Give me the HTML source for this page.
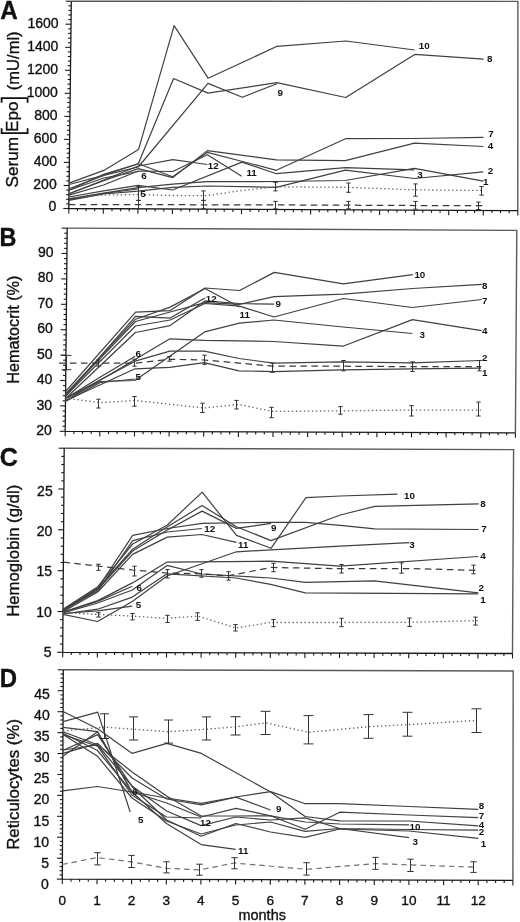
<!DOCTYPE html>
<html><head><meta charset="utf-8"><style>
html,body{margin:0;padding:0;background:#fff;}
body{width:520px;height:922px;overflow:hidden;}
svg{display:block;will-change:transform;}
text{font-family:"Liberation Sans",sans-serif;fill:#111;stroke:#111;stroke-width:0.35px;}
.tl{font-size:14px;text-anchor:end;}
.ml{font-size:13.6px;text-anchor:middle;}
.mo{font-size:14.5px;}
.pl{font-size:25px;font-weight:bold;}
.yt{font-size:16.8px;}
.dl{font-size:9.8px;font-weight:bold;stroke-width:0;}
</style></head><body>
<svg width="520" height="922" viewBox="0 0 520 922" shape-rendering="geometricPrecision">
<rect width="520" height="922" fill="#fff"/>
<polyline points="71.3,1.2 517.9,1.4 517.8,210.6" fill="none" stroke="#5a5a5a" stroke-width="1.4"/>
<polyline points="71.3,1.2 68.8,208.5 517.8,210.6" fill="none" stroke="#1a1a1a" stroke-width="1.3"/>
<line x1="63.3" y1="208.5" x2="68.8" y2="208.5" stroke="#1a1a1a" stroke-width="1.1" />
<line x1="66.1" y1="203.9" x2="68.9" y2="203.9" stroke="#1a1a1a" stroke-width="1.1" />
<line x1="66.1" y1="199.3" x2="68.9" y2="199.3" stroke="#1a1a1a" stroke-width="1.1" />
<line x1="66.2" y1="194.7" x2="69" y2="194.7" stroke="#1a1a1a" stroke-width="1.1" />
<line x1="66.2" y1="190.1" x2="69" y2="190.1" stroke="#1a1a1a" stroke-width="1.1" />
<line x1="63.6" y1="185.5" x2="69.1" y2="185.5" stroke="#1a1a1a" stroke-width="1.1" />
<line x1="66.3" y1="180.9" x2="69.1" y2="180.9" stroke="#1a1a1a" stroke-width="1.1" />
<line x1="66.4" y1="176.3" x2="69.2" y2="176.3" stroke="#1a1a1a" stroke-width="1.1" />
<line x1="66.4" y1="171.6" x2="69.2" y2="171.6" stroke="#1a1a1a" stroke-width="1.1" />
<line x1="66.5" y1="167" x2="69.3" y2="167" stroke="#1a1a1a" stroke-width="1.1" />
<line x1="63.9" y1="162.4" x2="69.4" y2="162.4" stroke="#1a1a1a" stroke-width="1.1" />
<line x1="66.6" y1="157.8" x2="69.4" y2="157.8" stroke="#1a1a1a" stroke-width="1.1" />
<line x1="66.7" y1="153.2" x2="69.5" y2="153.2" stroke="#1a1a1a" stroke-width="1.1" />
<line x1="66.7" y1="148.6" x2="69.5" y2="148.6" stroke="#1a1a1a" stroke-width="1.1" />
<line x1="66.8" y1="144" x2="69.6" y2="144" stroke="#1a1a1a" stroke-width="1.1" />
<line x1="64.1" y1="139.4" x2="69.6" y2="139.4" stroke="#1a1a1a" stroke-width="1.1" />
<line x1="66.9" y1="134.8" x2="69.7" y2="134.8" stroke="#1a1a1a" stroke-width="1.1" />
<line x1="66.9" y1="130.2" x2="69.7" y2="130.2" stroke="#1a1a1a" stroke-width="1.1" />
<line x1="67" y1="125.6" x2="69.8" y2="125.6" stroke="#1a1a1a" stroke-width="1.1" />
<line x1="67.1" y1="121" x2="69.9" y2="121" stroke="#1a1a1a" stroke-width="1.1" />
<line x1="64.4" y1="116.4" x2="69.9" y2="116.4" stroke="#1a1a1a" stroke-width="1.1" />
<line x1="67.2" y1="111.8" x2="70" y2="111.8" stroke="#1a1a1a" stroke-width="1.1" />
<line x1="67.2" y1="107.2" x2="70" y2="107.2" stroke="#1a1a1a" stroke-width="1.1" />
<line x1="67.3" y1="102.5" x2="70.1" y2="102.5" stroke="#1a1a1a" stroke-width="1.1" />
<line x1="67.3" y1="97.9" x2="70.1" y2="97.9" stroke="#1a1a1a" stroke-width="1.1" />
<line x1="64.7" y1="93.3" x2="70.2" y2="93.3" stroke="#1a1a1a" stroke-width="1.1" />
<line x1="67.4" y1="88.7" x2="70.2" y2="88.7" stroke="#1a1a1a" stroke-width="1.1" />
<line x1="67.5" y1="84.1" x2="70.3" y2="84.1" stroke="#1a1a1a" stroke-width="1.1" />
<line x1="67.6" y1="79.5" x2="70.4" y2="79.5" stroke="#1a1a1a" stroke-width="1.1" />
<line x1="67.6" y1="74.9" x2="70.4" y2="74.9" stroke="#1a1a1a" stroke-width="1.1" />
<line x1="65" y1="70.3" x2="70.5" y2="70.3" stroke="#1a1a1a" stroke-width="1.1" />
<line x1="67.7" y1="65.7" x2="70.5" y2="65.7" stroke="#1a1a1a" stroke-width="1.1" />
<line x1="67.8" y1="61.1" x2="70.6" y2="61.1" stroke="#1a1a1a" stroke-width="1.1" />
<line x1="67.8" y1="56.5" x2="70.6" y2="56.5" stroke="#1a1a1a" stroke-width="1.1" />
<line x1="67.9" y1="51.9" x2="70.7" y2="51.9" stroke="#1a1a1a" stroke-width="1.1" />
<line x1="65.2" y1="47.3" x2="70.7" y2="47.3" stroke="#1a1a1a" stroke-width="1.1" />
<line x1="68" y1="42.7" x2="70.8" y2="42.7" stroke="#1a1a1a" stroke-width="1.1" />
<line x1="68.1" y1="38.1" x2="70.9" y2="38.1" stroke="#1a1a1a" stroke-width="1.1" />
<line x1="68.1" y1="33.4" x2="70.9" y2="33.4" stroke="#1a1a1a" stroke-width="1.1" />
<line x1="68.2" y1="28.8" x2="71" y2="28.8" stroke="#1a1a1a" stroke-width="1.1" />
<line x1="65.5" y1="24.2" x2="71" y2="24.2" stroke="#1a1a1a" stroke-width="1.1" />
<line x1="68.3" y1="19.6" x2="71.1" y2="19.6" stroke="#1a1a1a" stroke-width="1.1" />
<line x1="68.3" y1="15" x2="71.1" y2="15" stroke="#1a1a1a" stroke-width="1.1" />
<line x1="68.4" y1="10.4" x2="71.2" y2="10.4" stroke="#1a1a1a" stroke-width="1.1" />
<line x1="68.4" y1="5.8" x2="71.2" y2="5.8" stroke="#1a1a1a" stroke-width="1.1" />
<line x1="65.8" y1="1.2" x2="71.3" y2="1.2" stroke="#1a1a1a" stroke-width="1.1" />
<line x1="68.8" y1="208.5" x2="68.8" y2="213.5" stroke="#1a1a1a" stroke-width="1.1" />
<line x1="77.4" y1="208.5" x2="77.4" y2="211.1" stroke="#1a1a1a" stroke-width="1.1" />
<line x1="86.1" y1="208.6" x2="86.1" y2="211.2" stroke="#1a1a1a" stroke-width="1.1" />
<line x1="94.7" y1="208.6" x2="94.7" y2="211.2" stroke="#1a1a1a" stroke-width="1.1" />
<line x1="103.3" y1="208.7" x2="103.3" y2="213.7" stroke="#1a1a1a" stroke-width="1.1" />
<line x1="112" y1="208.7" x2="112" y2="211.3" stroke="#1a1a1a" stroke-width="1.1" />
<line x1="120.6" y1="208.7" x2="120.6" y2="211.3" stroke="#1a1a1a" stroke-width="1.1" />
<line x1="129.2" y1="208.8" x2="129.2" y2="211.4" stroke="#1a1a1a" stroke-width="1.1" />
<line x1="137.9" y1="208.8" x2="137.9" y2="213.8" stroke="#1a1a1a" stroke-width="1.1" />
<line x1="146.5" y1="208.9" x2="146.5" y2="211.5" stroke="#1a1a1a" stroke-width="1.1" />
<line x1="155.1" y1="208.9" x2="155.1" y2="211.5" stroke="#1a1a1a" stroke-width="1.1" />
<line x1="163.8" y1="208.9" x2="163.8" y2="211.5" stroke="#1a1a1a" stroke-width="1.1" />
<line x1="172.4" y1="209" x2="172.4" y2="214" stroke="#1a1a1a" stroke-width="1.1" />
<line x1="181" y1="209" x2="181" y2="211.6" stroke="#1a1a1a" stroke-width="1.1" />
<line x1="189.7" y1="209.1" x2="189.7" y2="211.7" stroke="#1a1a1a" stroke-width="1.1" />
<line x1="198.3" y1="209.1" x2="198.3" y2="211.7" stroke="#1a1a1a" stroke-width="1.1" />
<line x1="207" y1="209.1" x2="207" y2="214.1" stroke="#1a1a1a" stroke-width="1.1" />
<line x1="215.6" y1="209.2" x2="215.6" y2="211.8" stroke="#1a1a1a" stroke-width="1.1" />
<line x1="224.2" y1="209.2" x2="224.2" y2="211.8" stroke="#1a1a1a" stroke-width="1.1" />
<line x1="232.9" y1="209.3" x2="232.9" y2="211.9" stroke="#1a1a1a" stroke-width="1.1" />
<line x1="241.5" y1="209.3" x2="241.5" y2="214.3" stroke="#1a1a1a" stroke-width="1.1" />
<line x1="250.1" y1="209.3" x2="250.1" y2="211.9" stroke="#1a1a1a" stroke-width="1.1" />
<line x1="258.8" y1="209.4" x2="258.8" y2="212" stroke="#1a1a1a" stroke-width="1.1" />
<line x1="267.4" y1="209.4" x2="267.4" y2="212" stroke="#1a1a1a" stroke-width="1.1" />
<line x1="276" y1="209.5" x2="276" y2="214.5" stroke="#1a1a1a" stroke-width="1.1" />
<line x1="284.7" y1="209.5" x2="284.7" y2="212.1" stroke="#1a1a1a" stroke-width="1.1" />
<line x1="293.3" y1="209.6" x2="293.3" y2="212.2" stroke="#1a1a1a" stroke-width="1.1" />
<line x1="301.9" y1="209.6" x2="301.9" y2="212.2" stroke="#1a1a1a" stroke-width="1.1" />
<line x1="310.6" y1="209.6" x2="310.6" y2="214.6" stroke="#1a1a1a" stroke-width="1.1" />
<line x1="319.2" y1="209.7" x2="319.2" y2="212.3" stroke="#1a1a1a" stroke-width="1.1" />
<line x1="327.8" y1="209.7" x2="327.8" y2="212.3" stroke="#1a1a1a" stroke-width="1.1" />
<line x1="336.5" y1="209.8" x2="336.5" y2="212.4" stroke="#1a1a1a" stroke-width="1.1" />
<line x1="345.1" y1="209.8" x2="345.1" y2="214.8" stroke="#1a1a1a" stroke-width="1.1" />
<line x1="353.7" y1="209.8" x2="353.7" y2="212.4" stroke="#1a1a1a" stroke-width="1.1" />
<line x1="362.4" y1="209.9" x2="362.4" y2="212.5" stroke="#1a1a1a" stroke-width="1.1" />
<line x1="371" y1="209.9" x2="371" y2="212.5" stroke="#1a1a1a" stroke-width="1.1" />
<line x1="379.6" y1="210" x2="379.6" y2="215" stroke="#1a1a1a" stroke-width="1.1" />
<line x1="388.3" y1="210" x2="388.3" y2="212.6" stroke="#1a1a1a" stroke-width="1.1" />
<line x1="396.9" y1="210" x2="396.9" y2="212.6" stroke="#1a1a1a" stroke-width="1.1" />
<line x1="405.5" y1="210.1" x2="405.5" y2="212.7" stroke="#1a1a1a" stroke-width="1.1" />
<line x1="414.2" y1="210.1" x2="414.2" y2="215.1" stroke="#1a1a1a" stroke-width="1.1" />
<line x1="422.8" y1="210.2" x2="422.8" y2="212.8" stroke="#1a1a1a" stroke-width="1.1" />
<line x1="431.5" y1="210.2" x2="431.5" y2="212.8" stroke="#1a1a1a" stroke-width="1.1" />
<line x1="440.1" y1="210.2" x2="440.1" y2="212.8" stroke="#1a1a1a" stroke-width="1.1" />
<line x1="448.7" y1="210.3" x2="448.7" y2="215.3" stroke="#1a1a1a" stroke-width="1.1" />
<line x1="457.4" y1="210.3" x2="457.4" y2="212.9" stroke="#1a1a1a" stroke-width="1.1" />
<line x1="466" y1="210.4" x2="466" y2="213" stroke="#1a1a1a" stroke-width="1.1" />
<line x1="474.6" y1="210.4" x2="474.6" y2="213" stroke="#1a1a1a" stroke-width="1.1" />
<line x1="483.3" y1="210.4" x2="483.3" y2="215.4" stroke="#1a1a1a" stroke-width="1.1" />
<line x1="491.9" y1="210.5" x2="491.9" y2="213.1" stroke="#1a1a1a" stroke-width="1.1" />
<line x1="500.5" y1="210.5" x2="500.5" y2="213.1" stroke="#1a1a1a" stroke-width="1.1" />
<line x1="509.2" y1="210.6" x2="509.2" y2="213.2" stroke="#1a1a1a" stroke-width="1.1" />
<line x1="517.8" y1="210.6" x2="517.8" y2="215.6" stroke="#1a1a1a" stroke-width="1.1" />
<text x="56.4" y="211.2" class="tl">0</text>
<text x="56.7" y="188.9" class="tl">200</text>
<text x="57" y="166" class="tl">400</text>
<text x="57.2" y="143" class="tl">600</text>
<text x="57.5" y="120" class="tl">800</text>
<text x="57.8" y="97" class="tl">1000</text>
<text x="58.1" y="74.1" class="tl">1200</text>
<text x="58.3" y="51.1" class="tl">1400</text>
<text x="58.6" y="28.1" class="tl">1600</text>
<polyline points="67.2,228.1 516.8,230.4 515.4,432.8" fill="none" stroke="#5a5a5a" stroke-width="1.4"/>
<polyline points="67.2,228.1 65.2,431.3 515.4,432.8" fill="none" stroke="#1a1a1a" stroke-width="1.3"/>
<line x1="59.7" y1="431.3" x2="65.2" y2="431.3" stroke="#1a1a1a" stroke-width="1.1" />
<line x1="62.5" y1="426.2" x2="65.2" y2="426.2" stroke="#1a1a1a" stroke-width="1.1" />
<line x1="62.5" y1="421.1" x2="65.3" y2="421.1" stroke="#1a1a1a" stroke-width="1.1" />
<line x1="62.6" y1="416.1" x2="65.4" y2="416.1" stroke="#1a1a1a" stroke-width="1.1" />
<line x1="62.6" y1="411" x2="65.4" y2="411" stroke="#1a1a1a" stroke-width="1.1" />
<line x1="60" y1="405.9" x2="65.5" y2="405.9" stroke="#1a1a1a" stroke-width="1.1" />
<line x1="62.7" y1="400.8" x2="65.5" y2="400.8" stroke="#1a1a1a" stroke-width="1.1" />
<line x1="62.8" y1="395.7" x2="65.5" y2="395.7" stroke="#1a1a1a" stroke-width="1.1" />
<line x1="62.8" y1="390.7" x2="65.6" y2="390.7" stroke="#1a1a1a" stroke-width="1.1" />
<line x1="62.9" y1="385.6" x2="65.7" y2="385.6" stroke="#1a1a1a" stroke-width="1.1" />
<line x1="60.2" y1="380.5" x2="65.7" y2="380.5" stroke="#1a1a1a" stroke-width="1.1" />
<line x1="63" y1="375.4" x2="65.8" y2="375.4" stroke="#1a1a1a" stroke-width="1.1" />
<line x1="63" y1="370.3" x2="65.8" y2="370.3" stroke="#1a1a1a" stroke-width="1.1" />
<line x1="63.1" y1="365.3" x2="65.9" y2="365.3" stroke="#1a1a1a" stroke-width="1.1" />
<line x1="63.1" y1="360.2" x2="65.9" y2="360.2" stroke="#1a1a1a" stroke-width="1.1" />
<line x1="60.5" y1="355.1" x2="66" y2="355.1" stroke="#1a1a1a" stroke-width="1.1" />
<line x1="63.2" y1="350" x2="66" y2="350" stroke="#1a1a1a" stroke-width="1.1" />
<line x1="63.2" y1="344.9" x2="66" y2="344.9" stroke="#1a1a1a" stroke-width="1.1" />
<line x1="63.3" y1="339.9" x2="66.1" y2="339.9" stroke="#1a1a1a" stroke-width="1.1" />
<line x1="63.4" y1="334.8" x2="66.2" y2="334.8" stroke="#1a1a1a" stroke-width="1.1" />
<line x1="60.7" y1="329.7" x2="66.2" y2="329.7" stroke="#1a1a1a" stroke-width="1.1" />
<line x1="63.5" y1="324.6" x2="66.2" y2="324.6" stroke="#1a1a1a" stroke-width="1.1" />
<line x1="63.5" y1="319.5" x2="66.3" y2="319.5" stroke="#1a1a1a" stroke-width="1.1" />
<line x1="63.6" y1="314.5" x2="66.4" y2="314.5" stroke="#1a1a1a" stroke-width="1.1" />
<line x1="63.6" y1="309.4" x2="66.4" y2="309.4" stroke="#1a1a1a" stroke-width="1.1" />
<line x1="61" y1="304.3" x2="66.5" y2="304.3" stroke="#1a1a1a" stroke-width="1.1" />
<line x1="63.7" y1="299.2" x2="66.5" y2="299.2" stroke="#1a1a1a" stroke-width="1.1" />
<line x1="63.8" y1="294.1" x2="66.6" y2="294.1" stroke="#1a1a1a" stroke-width="1.1" />
<line x1="63.8" y1="289.1" x2="66.6" y2="289.1" stroke="#1a1a1a" stroke-width="1.1" />
<line x1="63.9" y1="284" x2="66.7" y2="284" stroke="#1a1a1a" stroke-width="1.1" />
<line x1="61.2" y1="278.9" x2="66.7" y2="278.9" stroke="#1a1a1a" stroke-width="1.1" />
<line x1="64" y1="273.8" x2="66.8" y2="273.8" stroke="#1a1a1a" stroke-width="1.1" />
<line x1="64" y1="268.7" x2="66.8" y2="268.7" stroke="#1a1a1a" stroke-width="1.1" />
<line x1="64" y1="263.7" x2="66.8" y2="263.7" stroke="#1a1a1a" stroke-width="1.1" />
<line x1="64.1" y1="258.6" x2="66.9" y2="258.6" stroke="#1a1a1a" stroke-width="1.1" />
<line x1="61.5" y1="253.5" x2="67" y2="253.5" stroke="#1a1a1a" stroke-width="1.1" />
<line x1="64.2" y1="248.4" x2="67" y2="248.4" stroke="#1a1a1a" stroke-width="1.1" />
<line x1="64.2" y1="243.3" x2="67" y2="243.3" stroke="#1a1a1a" stroke-width="1.1" />
<line x1="64.3" y1="238.3" x2="67.1" y2="238.3" stroke="#1a1a1a" stroke-width="1.1" />
<line x1="64.3" y1="233.2" x2="67.1" y2="233.2" stroke="#1a1a1a" stroke-width="1.1" />
<line x1="61.7" y1="228.1" x2="67.2" y2="228.1" stroke="#1a1a1a" stroke-width="1.1" />
<line x1="65.2" y1="431.3" x2="65.2" y2="436.3" stroke="#1a1a1a" stroke-width="1.1" />
<line x1="73.9" y1="431.3" x2="73.9" y2="433.9" stroke="#1a1a1a" stroke-width="1.1" />
<line x1="82.5" y1="431.4" x2="82.5" y2="434" stroke="#1a1a1a" stroke-width="1.1" />
<line x1="91.2" y1="431.4" x2="91.2" y2="434" stroke="#1a1a1a" stroke-width="1.1" />
<line x1="99.8" y1="431.4" x2="99.8" y2="436.4" stroke="#1a1a1a" stroke-width="1.1" />
<line x1="108.5" y1="431.4" x2="108.5" y2="434" stroke="#1a1a1a" stroke-width="1.1" />
<line x1="117.1" y1="431.5" x2="117.1" y2="434.1" stroke="#1a1a1a" stroke-width="1.1" />
<line x1="125.8" y1="431.5" x2="125.8" y2="434.1" stroke="#1a1a1a" stroke-width="1.1" />
<line x1="134.5" y1="431.5" x2="134.5" y2="436.5" stroke="#1a1a1a" stroke-width="1.1" />
<line x1="143.1" y1="431.6" x2="143.1" y2="434.2" stroke="#1a1a1a" stroke-width="1.1" />
<line x1="151.8" y1="431.6" x2="151.8" y2="434.2" stroke="#1a1a1a" stroke-width="1.1" />
<line x1="160.4" y1="431.6" x2="160.4" y2="434.2" stroke="#1a1a1a" stroke-width="1.1" />
<line x1="169.1" y1="431.6" x2="169.1" y2="436.6" stroke="#1a1a1a" stroke-width="1.1" />
<line x1="177.8" y1="431.7" x2="177.8" y2="434.3" stroke="#1a1a1a" stroke-width="1.1" />
<line x1="186.4" y1="431.7" x2="186.4" y2="434.3" stroke="#1a1a1a" stroke-width="1.1" />
<line x1="195.1" y1="431.7" x2="195.1" y2="434.3" stroke="#1a1a1a" stroke-width="1.1" />
<line x1="203.7" y1="431.8" x2="203.7" y2="436.8" stroke="#1a1a1a" stroke-width="1.1" />
<line x1="212.4" y1="431.8" x2="212.4" y2="434.4" stroke="#1a1a1a" stroke-width="1.1" />
<line x1="221" y1="431.8" x2="221" y2="434.4" stroke="#1a1a1a" stroke-width="1.1" />
<line x1="229.7" y1="431.8" x2="229.7" y2="434.4" stroke="#1a1a1a" stroke-width="1.1" />
<line x1="238.4" y1="431.9" x2="238.4" y2="436.9" stroke="#1a1a1a" stroke-width="1.1" />
<line x1="247" y1="431.9" x2="247" y2="434.5" stroke="#1a1a1a" stroke-width="1.1" />
<line x1="255.7" y1="431.9" x2="255.7" y2="434.5" stroke="#1a1a1a" stroke-width="1.1" />
<line x1="264.3" y1="432" x2="264.3" y2="434.6" stroke="#1a1a1a" stroke-width="1.1" />
<line x1="273" y1="432" x2="273" y2="437" stroke="#1a1a1a" stroke-width="1.1" />
<line x1="281.6" y1="432" x2="281.6" y2="434.6" stroke="#1a1a1a" stroke-width="1.1" />
<line x1="290.3" y1="432.1" x2="290.3" y2="434.7" stroke="#1a1a1a" stroke-width="1.1" />
<line x1="299" y1="432.1" x2="299" y2="434.7" stroke="#1a1a1a" stroke-width="1.1" />
<line x1="307.6" y1="432.1" x2="307.6" y2="437.1" stroke="#1a1a1a" stroke-width="1.1" />
<line x1="316.3" y1="432.1" x2="316.3" y2="434.7" stroke="#1a1a1a" stroke-width="1.1" />
<line x1="324.9" y1="432.2" x2="324.9" y2="434.8" stroke="#1a1a1a" stroke-width="1.1" />
<line x1="333.6" y1="432.2" x2="333.6" y2="434.8" stroke="#1a1a1a" stroke-width="1.1" />
<line x1="342.2" y1="432.2" x2="342.2" y2="437.2" stroke="#1a1a1a" stroke-width="1.1" />
<line x1="350.9" y1="432.3" x2="350.9" y2="434.9" stroke="#1a1a1a" stroke-width="1.1" />
<line x1="359.6" y1="432.3" x2="359.6" y2="434.9" stroke="#1a1a1a" stroke-width="1.1" />
<line x1="368.2" y1="432.3" x2="368.2" y2="434.9" stroke="#1a1a1a" stroke-width="1.1" />
<line x1="376.9" y1="432.3" x2="376.9" y2="437.3" stroke="#1a1a1a" stroke-width="1.1" />
<line x1="385.5" y1="432.4" x2="385.5" y2="435" stroke="#1a1a1a" stroke-width="1.1" />
<line x1="394.2" y1="432.4" x2="394.2" y2="435" stroke="#1a1a1a" stroke-width="1.1" />
<line x1="402.8" y1="432.4" x2="402.8" y2="435" stroke="#1a1a1a" stroke-width="1.1" />
<line x1="411.5" y1="432.5" x2="411.5" y2="437.5" stroke="#1a1a1a" stroke-width="1.1" />
<line x1="420.2" y1="432.5" x2="420.2" y2="435.1" stroke="#1a1a1a" stroke-width="1.1" />
<line x1="428.8" y1="432.5" x2="428.8" y2="435.1" stroke="#1a1a1a" stroke-width="1.1" />
<line x1="437.5" y1="432.5" x2="437.5" y2="435.1" stroke="#1a1a1a" stroke-width="1.1" />
<line x1="446.1" y1="432.6" x2="446.1" y2="437.6" stroke="#1a1a1a" stroke-width="1.1" />
<line x1="454.8" y1="432.6" x2="454.8" y2="435.2" stroke="#1a1a1a" stroke-width="1.1" />
<line x1="463.5" y1="432.6" x2="463.5" y2="435.2" stroke="#1a1a1a" stroke-width="1.1" />
<line x1="472.1" y1="432.7" x2="472.1" y2="435.3" stroke="#1a1a1a" stroke-width="1.1" />
<line x1="480.8" y1="432.7" x2="480.8" y2="437.7" stroke="#1a1a1a" stroke-width="1.1" />
<line x1="489.4" y1="432.7" x2="489.4" y2="435.3" stroke="#1a1a1a" stroke-width="1.1" />
<line x1="498.1" y1="432.7" x2="498.1" y2="435.3" stroke="#1a1a1a" stroke-width="1.1" />
<line x1="506.7" y1="432.8" x2="506.7" y2="435.4" stroke="#1a1a1a" stroke-width="1.1" />
<line x1="515.4" y1="432.8" x2="515.4" y2="437.8" stroke="#1a1a1a" stroke-width="1.1" />
<text x="51.8" y="435.4" class="tl">20</text>
<text x="52.1" y="409.9" class="tl">30</text>
<text x="52.3" y="384.3" class="tl">40</text>
<text x="52.6" y="358.7" class="tl">50</text>
<text x="52.8" y="333.2" class="tl">60</text>
<text x="53.1" y="307.6" class="tl">70</text>
<text x="53.3" y="282.1" class="tl">80</text>
<text x="53.6" y="256.5" class="tl">90</text>
<polyline points="64.2,448.2 513.6,449.6 512.5,653.5" fill="none" stroke="#5a5a5a" stroke-width="1.4"/>
<polyline points="64.2,448.2 62.7,652.3 512.5,653.5" fill="none" stroke="#1a1a1a" stroke-width="1.3"/>
<line x1="57.2" y1="652.3" x2="62.7" y2="652.3" stroke="#1a1a1a" stroke-width="1.1" />
<line x1="60" y1="644.1" x2="62.8" y2="644.1" stroke="#1a1a1a" stroke-width="1.1" />
<line x1="60" y1="636" x2="62.8" y2="636" stroke="#1a1a1a" stroke-width="1.1" />
<line x1="60.1" y1="627.8" x2="62.9" y2="627.8" stroke="#1a1a1a" stroke-width="1.1" />
<line x1="60.1" y1="619.6" x2="62.9" y2="619.6" stroke="#1a1a1a" stroke-width="1.1" />
<line x1="57.5" y1="611.5" x2="63" y2="611.5" stroke="#1a1a1a" stroke-width="1.1" />
<line x1="60.3" y1="603.3" x2="63.1" y2="603.3" stroke="#1a1a1a" stroke-width="1.1" />
<line x1="60.3" y1="595.2" x2="63.1" y2="595.2" stroke="#1a1a1a" stroke-width="1.1" />
<line x1="60.4" y1="587" x2="63.2" y2="587" stroke="#1a1a1a" stroke-width="1.1" />
<line x1="60.4" y1="578.8" x2="63.2" y2="578.8" stroke="#1a1a1a" stroke-width="1.1" />
<line x1="57.8" y1="570.7" x2="63.3" y2="570.7" stroke="#1a1a1a" stroke-width="1.1" />
<line x1="60.6" y1="562.5" x2="63.4" y2="562.5" stroke="#1a1a1a" stroke-width="1.1" />
<line x1="60.6" y1="554.3" x2="63.4" y2="554.3" stroke="#1a1a1a" stroke-width="1.1" />
<line x1="60.7" y1="546.2" x2="63.5" y2="546.2" stroke="#1a1a1a" stroke-width="1.1" />
<line x1="60.7" y1="538" x2="63.5" y2="538" stroke="#1a1a1a" stroke-width="1.1" />
<line x1="58.1" y1="529.8" x2="63.6" y2="529.8" stroke="#1a1a1a" stroke-width="1.1" />
<line x1="60.9" y1="521.7" x2="63.7" y2="521.7" stroke="#1a1a1a" stroke-width="1.1" />
<line x1="60.9" y1="513.5" x2="63.7" y2="513.5" stroke="#1a1a1a" stroke-width="1.1" />
<line x1="61" y1="505.3" x2="63.8" y2="505.3" stroke="#1a1a1a" stroke-width="1.1" />
<line x1="61" y1="497.2" x2="63.8" y2="497.2" stroke="#1a1a1a" stroke-width="1.1" />
<line x1="58.4" y1="489" x2="63.9" y2="489" stroke="#1a1a1a" stroke-width="1.1" />
<line x1="61.2" y1="480.9" x2="64" y2="480.9" stroke="#1a1a1a" stroke-width="1.1" />
<line x1="61.2" y1="472.7" x2="64" y2="472.7" stroke="#1a1a1a" stroke-width="1.1" />
<line x1="61.3" y1="464.5" x2="64.1" y2="464.5" stroke="#1a1a1a" stroke-width="1.1" />
<line x1="61.3" y1="456.4" x2="64.1" y2="456.4" stroke="#1a1a1a" stroke-width="1.1" />
<line x1="58.7" y1="448.2" x2="64.2" y2="448.2" stroke="#1a1a1a" stroke-width="1.1" />
<line x1="62.7" y1="652.3" x2="62.7" y2="657.3" stroke="#1a1a1a" stroke-width="1.1" />
<line x1="71.3" y1="652.3" x2="71.3" y2="654.9" stroke="#1a1a1a" stroke-width="1.1" />
<line x1="80" y1="652.3" x2="80" y2="654.9" stroke="#1a1a1a" stroke-width="1.1" />
<line x1="88.7" y1="652.4" x2="88.7" y2="655" stroke="#1a1a1a" stroke-width="1.1" />
<line x1="97.3" y1="652.4" x2="97.3" y2="657.4" stroke="#1a1a1a" stroke-width="1.1" />
<line x1="106" y1="652.4" x2="106" y2="655" stroke="#1a1a1a" stroke-width="1.1" />
<line x1="114.6" y1="652.4" x2="114.6" y2="655" stroke="#1a1a1a" stroke-width="1.1" />
<line x1="123.2" y1="652.5" x2="123.2" y2="655.1" stroke="#1a1a1a" stroke-width="1.1" />
<line x1="131.9" y1="652.5" x2="131.9" y2="657.5" stroke="#1a1a1a" stroke-width="1.1" />
<line x1="140.6" y1="652.5" x2="140.6" y2="655.1" stroke="#1a1a1a" stroke-width="1.1" />
<line x1="149.2" y1="652.5" x2="149.2" y2="655.1" stroke="#1a1a1a" stroke-width="1.1" />
<line x1="157.8" y1="652.6" x2="157.8" y2="655.2" stroke="#1a1a1a" stroke-width="1.1" />
<line x1="166.5" y1="652.6" x2="166.5" y2="657.6" stroke="#1a1a1a" stroke-width="1.1" />
<line x1="175.2" y1="652.6" x2="175.2" y2="655.2" stroke="#1a1a1a" stroke-width="1.1" />
<line x1="183.8" y1="652.6" x2="183.8" y2="655.2" stroke="#1a1a1a" stroke-width="1.1" />
<line x1="192.4" y1="652.6" x2="192.4" y2="655.2" stroke="#1a1a1a" stroke-width="1.1" />
<line x1="201.1" y1="652.7" x2="201.1" y2="657.7" stroke="#1a1a1a" stroke-width="1.1" />
<line x1="209.8" y1="652.7" x2="209.8" y2="655.3" stroke="#1a1a1a" stroke-width="1.1" />
<line x1="218.4" y1="652.7" x2="218.4" y2="655.3" stroke="#1a1a1a" stroke-width="1.1" />
<line x1="227.1" y1="652.7" x2="227.1" y2="655.3" stroke="#1a1a1a" stroke-width="1.1" />
<line x1="235.7" y1="652.8" x2="235.7" y2="657.8" stroke="#1a1a1a" stroke-width="1.1" />
<line x1="244.3" y1="652.8" x2="244.3" y2="655.4" stroke="#1a1a1a" stroke-width="1.1" />
<line x1="253" y1="652.8" x2="253" y2="655.4" stroke="#1a1a1a" stroke-width="1.1" />
<line x1="261.6" y1="652.8" x2="261.6" y2="655.4" stroke="#1a1a1a" stroke-width="1.1" />
<line x1="270.3" y1="652.9" x2="270.3" y2="657.9" stroke="#1a1a1a" stroke-width="1.1" />
<line x1="278.9" y1="652.9" x2="278.9" y2="655.5" stroke="#1a1a1a" stroke-width="1.1" />
<line x1="287.6" y1="652.9" x2="287.6" y2="655.5" stroke="#1a1a1a" stroke-width="1.1" />
<line x1="296.2" y1="652.9" x2="296.2" y2="655.5" stroke="#1a1a1a" stroke-width="1.1" />
<line x1="304.9" y1="652.9" x2="304.9" y2="657.9" stroke="#1a1a1a" stroke-width="1.1" />
<line x1="313.6" y1="653" x2="313.6" y2="655.6" stroke="#1a1a1a" stroke-width="1.1" />
<line x1="322.2" y1="653" x2="322.2" y2="655.6" stroke="#1a1a1a" stroke-width="1.1" />
<line x1="330.8" y1="653" x2="330.8" y2="655.6" stroke="#1a1a1a" stroke-width="1.1" />
<line x1="339.5" y1="653" x2="339.5" y2="658" stroke="#1a1a1a" stroke-width="1.1" />
<line x1="348.1" y1="653.1" x2="348.1" y2="655.7" stroke="#1a1a1a" stroke-width="1.1" />
<line x1="356.8" y1="653.1" x2="356.8" y2="655.7" stroke="#1a1a1a" stroke-width="1.1" />
<line x1="365.4" y1="653.1" x2="365.4" y2="655.7" stroke="#1a1a1a" stroke-width="1.1" />
<line x1="374.1" y1="653.1" x2="374.1" y2="658.1" stroke="#1a1a1a" stroke-width="1.1" />
<line x1="382.8" y1="653.2" x2="382.8" y2="655.8" stroke="#1a1a1a" stroke-width="1.1" />
<line x1="391.4" y1="653.2" x2="391.4" y2="655.8" stroke="#1a1a1a" stroke-width="1.1" />
<line x1="400.1" y1="653.2" x2="400.1" y2="655.8" stroke="#1a1a1a" stroke-width="1.1" />
<line x1="408.7" y1="653.2" x2="408.7" y2="658.2" stroke="#1a1a1a" stroke-width="1.1" />
<line x1="417.4" y1="653.2" x2="417.4" y2="655.8" stroke="#1a1a1a" stroke-width="1.1" />
<line x1="426" y1="653.3" x2="426" y2="655.9" stroke="#1a1a1a" stroke-width="1.1" />
<line x1="434.6" y1="653.3" x2="434.6" y2="655.9" stroke="#1a1a1a" stroke-width="1.1" />
<line x1="443.3" y1="653.3" x2="443.3" y2="658.3" stroke="#1a1a1a" stroke-width="1.1" />
<line x1="452" y1="653.3" x2="452" y2="655.9" stroke="#1a1a1a" stroke-width="1.1" />
<line x1="460.6" y1="653.4" x2="460.6" y2="656" stroke="#1a1a1a" stroke-width="1.1" />
<line x1="469.2" y1="653.4" x2="469.2" y2="656" stroke="#1a1a1a" stroke-width="1.1" />
<line x1="477.9" y1="653.4" x2="477.9" y2="658.4" stroke="#1a1a1a" stroke-width="1.1" />
<line x1="486.6" y1="653.4" x2="486.6" y2="656" stroke="#1a1a1a" stroke-width="1.1" />
<line x1="495.2" y1="653.5" x2="495.2" y2="656.1" stroke="#1a1a1a" stroke-width="1.1" />
<line x1="503.9" y1="653.5" x2="503.9" y2="656.1" stroke="#1a1a1a" stroke-width="1.1" />
<line x1="512.5" y1="653.5" x2="512.5" y2="658.5" stroke="#1a1a1a" stroke-width="1.1" />
<text x="51.5" y="657" class="tl">5</text>
<text x="51.8" y="616.6" class="tl">10</text>
<text x="52.1" y="576.4" class="tl">15</text>
<text x="52.4" y="536" class="tl">20</text>
<text x="52.7" y="495.5" class="tl">25</text>
<polyline points="63.3,669.8 513.2,671 512.9,880.4" fill="none" stroke="#5a5a5a" stroke-width="1.4"/>
<polyline points="63.3,669.8 62.3,879.1 512.9,880.4" fill="none" stroke="#1a1a1a" stroke-width="1.3"/>
<line x1="56.8" y1="879.1" x2="62.3" y2="879.1" stroke="#1a1a1a" stroke-width="1.1" />
<line x1="59.5" y1="874.9" x2="62.3" y2="874.9" stroke="#1a1a1a" stroke-width="1.1" />
<line x1="59.5" y1="870.7" x2="62.3" y2="870.7" stroke="#1a1a1a" stroke-width="1.1" />
<line x1="59.6" y1="866.5" x2="62.4" y2="866.5" stroke="#1a1a1a" stroke-width="1.1" />
<line x1="59.6" y1="862.4" x2="62.4" y2="862.4" stroke="#1a1a1a" stroke-width="1.1" />
<line x1="56.9" y1="858.2" x2="62.4" y2="858.2" stroke="#1a1a1a" stroke-width="1.1" />
<line x1="59.6" y1="854" x2="62.4" y2="854" stroke="#1a1a1a" stroke-width="1.1" />
<line x1="59.6" y1="849.8" x2="62.4" y2="849.8" stroke="#1a1a1a" stroke-width="1.1" />
<line x1="59.7" y1="845.6" x2="62.5" y2="845.6" stroke="#1a1a1a" stroke-width="1.1" />
<line x1="59.7" y1="841.4" x2="62.5" y2="841.4" stroke="#1a1a1a" stroke-width="1.1" />
<line x1="57" y1="837.2" x2="62.5" y2="837.2" stroke="#1a1a1a" stroke-width="1.1" />
<line x1="59.7" y1="833.1" x2="62.5" y2="833.1" stroke="#1a1a1a" stroke-width="1.1" />
<line x1="59.7" y1="828.9" x2="62.5" y2="828.9" stroke="#1a1a1a" stroke-width="1.1" />
<line x1="59.8" y1="824.7" x2="62.6" y2="824.7" stroke="#1a1a1a" stroke-width="1.1" />
<line x1="59.8" y1="820.5" x2="62.6" y2="820.5" stroke="#1a1a1a" stroke-width="1.1" />
<line x1="57.1" y1="816.3" x2="62.6" y2="816.3" stroke="#1a1a1a" stroke-width="1.1" />
<line x1="59.8" y1="812.1" x2="62.6" y2="812.1" stroke="#1a1a1a" stroke-width="1.1" />
<line x1="59.8" y1="807.9" x2="62.6" y2="807.9" stroke="#1a1a1a" stroke-width="1.1" />
<line x1="59.9" y1="803.8" x2="62.7" y2="803.8" stroke="#1a1a1a" stroke-width="1.1" />
<line x1="59.9" y1="799.6" x2="62.7" y2="799.6" stroke="#1a1a1a" stroke-width="1.1" />
<line x1="57.2" y1="795.4" x2="62.7" y2="795.4" stroke="#1a1a1a" stroke-width="1.1" />
<line x1="59.9" y1="791.2" x2="62.7" y2="791.2" stroke="#1a1a1a" stroke-width="1.1" />
<line x1="59.9" y1="787" x2="62.7" y2="787" stroke="#1a1a1a" stroke-width="1.1" />
<line x1="60" y1="782.8" x2="62.8" y2="782.8" stroke="#1a1a1a" stroke-width="1.1" />
<line x1="60" y1="778.6" x2="62.8" y2="778.6" stroke="#1a1a1a" stroke-width="1.1" />
<line x1="57.3" y1="774.5" x2="62.8" y2="774.5" stroke="#1a1a1a" stroke-width="1.1" />
<line x1="60" y1="770.3" x2="62.8" y2="770.3" stroke="#1a1a1a" stroke-width="1.1" />
<line x1="60" y1="766.1" x2="62.8" y2="766.1" stroke="#1a1a1a" stroke-width="1.1" />
<line x1="60.1" y1="761.9" x2="62.9" y2="761.9" stroke="#1a1a1a" stroke-width="1.1" />
<line x1="60.1" y1="757.7" x2="62.9" y2="757.7" stroke="#1a1a1a" stroke-width="1.1" />
<line x1="57.4" y1="753.5" x2="62.9" y2="753.5" stroke="#1a1a1a" stroke-width="1.1" />
<line x1="60.1" y1="749.3" x2="62.9" y2="749.3" stroke="#1a1a1a" stroke-width="1.1" />
<line x1="60.1" y1="745.1" x2="62.9" y2="745.1" stroke="#1a1a1a" stroke-width="1.1" />
<line x1="60.2" y1="741" x2="63" y2="741" stroke="#1a1a1a" stroke-width="1.1" />
<line x1="60.2" y1="736.8" x2="63" y2="736.8" stroke="#1a1a1a" stroke-width="1.1" />
<line x1="57.5" y1="732.6" x2="63" y2="732.6" stroke="#1a1a1a" stroke-width="1.1" />
<line x1="60.2" y1="728.4" x2="63" y2="728.4" stroke="#1a1a1a" stroke-width="1.1" />
<line x1="60.2" y1="724.2" x2="63" y2="724.2" stroke="#1a1a1a" stroke-width="1.1" />
<line x1="60.3" y1="720" x2="63.1" y2="720" stroke="#1a1a1a" stroke-width="1.1" />
<line x1="60.3" y1="715.8" x2="63.1" y2="715.8" stroke="#1a1a1a" stroke-width="1.1" />
<line x1="57.6" y1="711.7" x2="63.1" y2="711.7" stroke="#1a1a1a" stroke-width="1.1" />
<line x1="60.3" y1="707.5" x2="63.1" y2="707.5" stroke="#1a1a1a" stroke-width="1.1" />
<line x1="60.3" y1="703.3" x2="63.1" y2="703.3" stroke="#1a1a1a" stroke-width="1.1" />
<line x1="60.4" y1="699.1" x2="63.2" y2="699.1" stroke="#1a1a1a" stroke-width="1.1" />
<line x1="60.4" y1="694.9" x2="63.2" y2="694.9" stroke="#1a1a1a" stroke-width="1.1" />
<line x1="57.7" y1="690.7" x2="63.2" y2="690.7" stroke="#1a1a1a" stroke-width="1.1" />
<line x1="60.4" y1="686.5" x2="63.2" y2="686.5" stroke="#1a1a1a" stroke-width="1.1" />
<line x1="60.4" y1="682.4" x2="63.2" y2="682.4" stroke="#1a1a1a" stroke-width="1.1" />
<line x1="60.5" y1="678.2" x2="63.3" y2="678.2" stroke="#1a1a1a" stroke-width="1.1" />
<line x1="60.5" y1="674" x2="63.3" y2="674" stroke="#1a1a1a" stroke-width="1.1" />
<line x1="57.8" y1="669.8" x2="63.3" y2="669.8" stroke="#1a1a1a" stroke-width="1.1" />
<line x1="62.3" y1="879.1" x2="62.3" y2="884.1" stroke="#1a1a1a" stroke-width="1.1" />
<line x1="71" y1="879.1" x2="71" y2="881.7" stroke="#1a1a1a" stroke-width="1.1" />
<line x1="79.6" y1="879.1" x2="79.6" y2="881.8" stroke="#1a1a1a" stroke-width="1.1" />
<line x1="88.3" y1="879.2" x2="88.3" y2="881.8" stroke="#1a1a1a" stroke-width="1.1" />
<line x1="97" y1="879.2" x2="97" y2="884.2" stroke="#1a1a1a" stroke-width="1.1" />
<line x1="105.6" y1="879.2" x2="105.6" y2="881.8" stroke="#1a1a1a" stroke-width="1.1" />
<line x1="114.3" y1="879.2" x2="114.3" y2="881.9" stroke="#1a1a1a" stroke-width="1.1" />
<line x1="123" y1="879.3" x2="123" y2="881.9" stroke="#1a1a1a" stroke-width="1.1" />
<line x1="131.6" y1="879.3" x2="131.6" y2="884.3" stroke="#1a1a1a" stroke-width="1.1" />
<line x1="140.3" y1="879.3" x2="140.3" y2="881.9" stroke="#1a1a1a" stroke-width="1.1" />
<line x1="149" y1="879.4" x2="149" y2="882" stroke="#1a1a1a" stroke-width="1.1" />
<line x1="157.6" y1="879.4" x2="157.6" y2="882" stroke="#1a1a1a" stroke-width="1.1" />
<line x1="166.3" y1="879.4" x2="166.3" y2="884.4" stroke="#1a1a1a" stroke-width="1.1" />
<line x1="174.9" y1="879.4" x2="174.9" y2="882" stroke="#1a1a1a" stroke-width="1.1" />
<line x1="183.6" y1="879.5" x2="183.6" y2="882.1" stroke="#1a1a1a" stroke-width="1.1" />
<line x1="192.3" y1="879.5" x2="192.3" y2="882.1" stroke="#1a1a1a" stroke-width="1.1" />
<line x1="200.9" y1="879.5" x2="200.9" y2="884.5" stroke="#1a1a1a" stroke-width="1.1" />
<line x1="209.6" y1="879.5" x2="209.6" y2="882.1" stroke="#1a1a1a" stroke-width="1.1" />
<line x1="218.3" y1="879.5" x2="218.3" y2="882.1" stroke="#1a1a1a" stroke-width="1.1" />
<line x1="226.9" y1="879.6" x2="226.9" y2="882.2" stroke="#1a1a1a" stroke-width="1.1" />
<line x1="235.6" y1="879.6" x2="235.6" y2="884.6" stroke="#1a1a1a" stroke-width="1.1" />
<line x1="244.3" y1="879.6" x2="244.3" y2="882.2" stroke="#1a1a1a" stroke-width="1.1" />
<line x1="252.9" y1="879.6" x2="252.9" y2="882.2" stroke="#1a1a1a" stroke-width="1.1" />
<line x1="261.6" y1="879.7" x2="261.6" y2="882.3" stroke="#1a1a1a" stroke-width="1.1" />
<line x1="270.3" y1="879.7" x2="270.3" y2="884.7" stroke="#1a1a1a" stroke-width="1.1" />
<line x1="278.9" y1="879.7" x2="278.9" y2="882.3" stroke="#1a1a1a" stroke-width="1.1" />
<line x1="287.6" y1="879.8" x2="287.6" y2="882.4" stroke="#1a1a1a" stroke-width="1.1" />
<line x1="296.3" y1="879.8" x2="296.3" y2="882.4" stroke="#1a1a1a" stroke-width="1.1" />
<line x1="304.9" y1="879.8" x2="304.9" y2="884.8" stroke="#1a1a1a" stroke-width="1.1" />
<line x1="313.6" y1="879.8" x2="313.6" y2="882.4" stroke="#1a1a1a" stroke-width="1.1" />
<line x1="322.3" y1="879.8" x2="322.3" y2="882.4" stroke="#1a1a1a" stroke-width="1.1" />
<line x1="330.9" y1="879.9" x2="330.9" y2="882.5" stroke="#1a1a1a" stroke-width="1.1" />
<line x1="339.6" y1="879.9" x2="339.6" y2="884.9" stroke="#1a1a1a" stroke-width="1.1" />
<line x1="348.3" y1="879.9" x2="348.3" y2="882.5" stroke="#1a1a1a" stroke-width="1.1" />
<line x1="356.9" y1="880" x2="356.9" y2="882.6" stroke="#1a1a1a" stroke-width="1.1" />
<line x1="365.6" y1="880" x2="365.6" y2="882.6" stroke="#1a1a1a" stroke-width="1.1" />
<line x1="374.3" y1="880" x2="374.3" y2="885" stroke="#1a1a1a" stroke-width="1.1" />
<line x1="382.9" y1="880" x2="382.9" y2="882.6" stroke="#1a1a1a" stroke-width="1.1" />
<line x1="391.6" y1="880" x2="391.6" y2="882.6" stroke="#1a1a1a" stroke-width="1.1" />
<line x1="400.2" y1="880.1" x2="400.2" y2="882.7" stroke="#1a1a1a" stroke-width="1.1" />
<line x1="408.9" y1="880.1" x2="408.9" y2="885.1" stroke="#1a1a1a" stroke-width="1.1" />
<line x1="417.6" y1="880.1" x2="417.6" y2="882.7" stroke="#1a1a1a" stroke-width="1.1" />
<line x1="426.2" y1="880.1" x2="426.2" y2="882.8" stroke="#1a1a1a" stroke-width="1.1" />
<line x1="434.9" y1="880.2" x2="434.9" y2="882.8" stroke="#1a1a1a" stroke-width="1.1" />
<line x1="443.6" y1="880.2" x2="443.6" y2="885.2" stroke="#1a1a1a" stroke-width="1.1" />
<line x1="452.2" y1="880.2" x2="452.2" y2="882.8" stroke="#1a1a1a" stroke-width="1.1" />
<line x1="460.9" y1="880.2" x2="460.9" y2="882.9" stroke="#1a1a1a" stroke-width="1.1" />
<line x1="469.6" y1="880.3" x2="469.6" y2="882.9" stroke="#1a1a1a" stroke-width="1.1" />
<line x1="478.2" y1="880.3" x2="478.2" y2="885.3" stroke="#1a1a1a" stroke-width="1.1" />
<line x1="486.9" y1="880.3" x2="486.9" y2="882.9" stroke="#1a1a1a" stroke-width="1.1" />
<line x1="495.6" y1="880.4" x2="495.6" y2="883" stroke="#1a1a1a" stroke-width="1.1" />
<line x1="504.2" y1="880.4" x2="504.2" y2="883" stroke="#1a1a1a" stroke-width="1.1" />
<line x1="512.9" y1="880.4" x2="512.9" y2="885.4" stroke="#1a1a1a" stroke-width="1.1" />
<text x="48.9" y="888.8" class="tl">0</text>
<text x="49" y="867.7" class="tl">5</text>
<text x="49.1" y="846.6" class="tl">10</text>
<text x="49.2" y="825.5" class="tl">15</text>
<text x="49.3" y="804.4" class="tl">20</text>
<text x="49.4" y="783.4" class="tl">25</text>
<text x="49.5" y="762.4" class="tl">30</text>
<text x="49.6" y="741.3" class="tl">35</text>
<text x="49.7" y="720.3" class="tl">40</text>
<text x="49.8" y="699.4" class="tl">45</text>
<text x="62.3" y="905" class="ml">0</text>
<text x="97" y="905" class="ml">1</text>
<text x="131.6" y="905" class="ml">2</text>
<text x="166.3" y="905" class="ml">3</text>
<text x="200.9" y="905" class="ml">4</text>
<text x="235.6" y="905" class="ml">5</text>
<text x="270.3" y="905" class="ml">6</text>
<text x="304.9" y="905" class="ml">7</text>
<text x="339.6" y="905" class="ml">8</text>
<text x="374.3" y="905" class="ml">9</text>
<text x="408.9" y="905" class="ml">10</text>
<text x="443.6" y="905" class="ml">11</text>
<text x="478.2" y="905" class="ml">12</text>
<text x="238.5" y="919.6" class="mo" textLength="47.4" lengthAdjust="spacingAndGlyphs">months</text>
<text x="0.2" y="18.7" class="pl" textLength="17.5" lengthAdjust="spacingAndGlyphs">A</text>
<text x="-0.6" y="245.8" class="pl" textLength="16.9" lengthAdjust="spacingAndGlyphs">B</text>
<text x="-0.3" y="466.2" class="pl">C</text>
<text x="-0.3" y="687.2" class="pl" textLength="17.3" lengthAdjust="spacingAndGlyphs">D</text>
<text transform="translate(18.4,187.4) rotate(-90)" x="0" y="0" class="yt" style="font-size:17px" textLength="50.5" lengthAdjust="spacingAndGlyphs" >Serum</text>
<text transform="translate(18.2,132) rotate(-90)" x="0" y="0" class="yt" style="font-size:17.3px" textLength="30.4" lengthAdjust="spacingAndGlyphs" >Epo</text>
<text transform="translate(18.6,90.2) rotate(-90)" x="0" y="0" class="yt" style="font-size:16.5px" textLength="58.8" lengthAdjust="spacingAndGlyphs" >(mU/ml)</text>
<path d="M1.6,128.3 L1.6,133.2 L27.6,133.2 L27.6,128.3" fill="none" stroke="#111" stroke-width="1.8"/>
<path d="M1.6,102.8 L1.6,98.2 L27.6,98.2 L27.6,102.8" fill="none" stroke="#111" stroke-width="1.8"/>
<text transform="translate(19,383.8) rotate(-90)" x="0" y="0" class="yt" style="font-size:16.5px" textLength="108.2" lengthAdjust="spacingAndGlyphs" >Hematocrit (%)</text>
<text transform="translate(19,616.8) rotate(-90)" x="0" y="0" class="yt" style="font-size:16.8px" textLength="132" lengthAdjust="spacingAndGlyphs" >Hemoglobin (g/dl)</text>
<text transform="translate(19.3,849.8) rotate(-90)" x="0" y="0" class="yt" style="font-size:16.8px" textLength="130.8" lengthAdjust="spacingAndGlyphs" >Reticulocytes (%)</text>
<polyline points="69.1,183.1 103.8,170.4 138.5,149.6 174.1,25.6 208.1,78.2 277.1,46.3 345.9,41 414.7,50" fill="none" stroke="#404040" stroke-width="1.2" stroke-linejoin="round"/>
<polyline points="69,190.3 103.7,174.4 138.3,163.7 173.6,78.5 207.9,93.1 276.9,82.7 345.7,97.5 414.7,54.4 483.5,59.2" fill="none" stroke="#404040" stroke-width="1.2" stroke-linejoin="round"/>
<polyline points="69,188.8 103.7,175.4 138.3,167 208,83.4 242.3,97.2 276.9,83.7" fill="none" stroke="#404040" stroke-width="1.2" stroke-linejoin="round"/>
<polyline points="69.1,184.5 103.7,175.3 138.3,163.7 172.7,176.8 207.4,152.3 276.3,170.3 345.5,138.7 414.4,138.5 483.4,137.3" fill="none" stroke="#404040" stroke-width="1.2" stroke-linejoin="round"/>
<polyline points="69,193.7 103.7,180.7 138.3,168.6 172.7,177.6 207.4,150.6 276.4,159.9 345.3,160.6 414.4,143.1 483.3,146.5" fill="none" stroke="#404040" stroke-width="1.2" stroke-linejoin="round"/>
<polyline points="69,195.1 103.6,185 138.3,171 172.8,171.5 207.4,154.7 241.7,176.3" fill="none" stroke="#404040" stroke-width="1.2" stroke-linejoin="round"/>
<polyline points="69,193.7 103.7,180 138.3,166 172.9,159.6 207.3,164.5" fill="none" stroke="#404040" stroke-width="1.2" stroke-linejoin="round"/>
<polyline points="69,190.3 103.7,178 138.3,171.5" fill="none" stroke="#404040" stroke-width="1.2" stroke-linejoin="round"/>
<polyline points="68.9,197 103.5,190.8 138.1,185.4 172.6,190 241.9,162.1 276.3,173.7 345.3,167.7 414.3,169.8" fill="none" stroke="#404040" stroke-width="1.2" stroke-linejoin="round"/>
<polyline points="68.9,198.9 103.5,193.2 138.1,187.7 172.6,184.1 207.2,181.7 276.2,181.5 345.3,180.5 414.3,168.3 483.3,181.2" fill="none" stroke="#404040" stroke-width="1.2" stroke-linejoin="round"/>
<polyline points="68.9,200.4 103.5,194 138.1,191.2 172.6,187.4 207.1,186 276.2,187.3 345.3,170.2 414.3,178.5 483.3,171.9" fill="none" stroke="#404040" stroke-width="1.2" stroke-linejoin="round"/>
<polyline points="68.9,199.6 103.5,193.5 138.1,189" fill="none" stroke="#404040" stroke-width="1.2" stroke-linejoin="round"/>
<polyline points="68.9,198 103.5,195 138,194.6 172.5,195.5 207.1,195.6 241.6,190.5 276.2,186.8 345.2,187.3 414.2,189.8 483.3,190.5" fill="none" stroke="#666" stroke-width="1.3" stroke-dasharray="1.4,2.6"/>
<polyline points="68.8,204.6 137.9,204.6 207,204.8 276.1,204.9 345.1,205.2 414.2,205.5 483.3,205.7" fill="none" stroke="#3a3a3a" stroke-width="1.25" stroke-dasharray="6.5,4.5"/>
<polyline points="65.6,391.5 135.6,312.1 170.2,310.6 205,288 239.6,290.5 274.3,272.4 343.4,283.8 412.7,274.6" fill="none" stroke="#404040" stroke-width="1.2" stroke-linejoin="round"/>
<polyline points="65.6,393.8 135.5,319.2 170.2,307.1 205,288.5 239.4,307" fill="none" stroke="#404040" stroke-width="1.2" stroke-linejoin="round"/>
<polyline points="65.5,396.2 135.5,316.3 170.1,318.1 204.9,298" fill="none" stroke="#404040" stroke-width="1.2" stroke-linejoin="round"/>
<polyline points="65.6,394.6 135.5,321.5 170.2,312 204.9,302.7 239.5,304.4 274.1,296.6 343.4,294.2 412.6,288.5 481.8,284.3" fill="none" stroke="#404040" stroke-width="1.2" stroke-linejoin="round"/>
<polyline points="65.5,398.5 135.4,332.5 170.1,325.6 204.9,300.9 239.5,303.5 274.1,304.2" fill="none" stroke="#404040" stroke-width="1.2" stroke-linejoin="round"/>
<polyline points="65.5,396.2 135.5,326 170.1,320 204.9,303.5 239.5,306.1 274,317 343.3,298.5 412.5,307.5 481.7,299.5" fill="none" stroke="#404040" stroke-width="1.2" stroke-linejoin="round"/>
<polyline points="65.5,398.5 100.4,377 135.2,356.2" fill="none" stroke="#404040" stroke-width="1.2" stroke-linejoin="round"/>
<polyline points="65.5,400.8 135.1,359.6 169.9,338.8 204.5,340.4 273.8,341.5 342.9,346.2 412.4,319.6 481.5,330.7" fill="none" stroke="#404040" stroke-width="1.2" stroke-linejoin="round"/>
<polyline points="65.5,398.5 135.1,361.2 169.8,351.2 204.4,351.2 239,358.5 273.6,363.1 342.8,361.8 412,362.9 481.3,360.5" fill="none" stroke="#404040" stroke-width="1.2" stroke-linejoin="round"/>
<polyline points="65.5,400.8 135.1,368.8 169.7,367.3 204.3,362.7 238.9,370.8 273.5,371.7 342.7,369.8 412,368.8 481.2,368.1" fill="none" stroke="#404040" stroke-width="1.2" stroke-linejoin="round"/>
<polyline points="65.5,398.5 100.3,381.5 134.9,380.5 204.6,331.9 239.3,323.1 273.9,320 343.1,327 412.3,333.5" fill="none" stroke="#404040" stroke-width="1.2" stroke-linejoin="round"/>
<polyline points="65.5,401.5 100.3,382.5 135,379" fill="none" stroke="#404040" stroke-width="1.2" stroke-linejoin="round"/>
<polyline points="58.9,363.1 135.1,363.1 169.8,359.3 204.4,360 273.5,366.2 342.8,366.2 412,366.7 481.2,366.5" fill="none" stroke="#3a3a3a" stroke-width="1.25" stroke-dasharray="6.5,4.5"/>
<polyline points="65.5,398.1 100.1,402.7 134.8,400.4 203.9,408 238.6,404.5 273.2,411.5 342.4,410.8 411.7,410.1 480.9,410.1" fill="none" stroke="#666" stroke-width="1.3" stroke-dasharray="1.4,2.6"/>
<polyline points="63,609.2 97.8,586.7 132.7,544 167.4,525 202.2,492.1 236.5,535.4 271,548.3 305.9,497.7 340.5,496 397.5,494.2" fill="none" stroke="#404040" stroke-width="1.2" stroke-linejoin="round"/>
<polyline points="63,609.8 97.8,588.5 132.6,549.2 167.4,526.7 202.1,505.6 236.5,526.7 271,540.6 340.3,515 375,506.3 478.7,503.9" fill="none" stroke="#404040" stroke-width="1.2" stroke-linejoin="round"/>
<polyline points="63,610.5 97.8,589.5 132.6,551 167.3,530 202.1,511.1 236.5,528.4 271.1,523.3" fill="none" stroke="#404040" stroke-width="1.2" stroke-linejoin="round"/>
<polyline points="63,611 97.8,588 132.7,535.4 167.4,528.5 202,523.3 271.1,522.3 305.7,522.3 340.3,525.4 374.8,528.8 478.6,529.5" fill="none" stroke="#404040" stroke-width="1.2" stroke-linejoin="round"/>
<polyline points="63,610 97.7,591 132.7,540.6 167.3,532 201.9,528.5" fill="none" stroke="#404040" stroke-width="1.2" stroke-linejoin="round"/>
<polyline points="63,611.8 97.7,592 132.6,554.4 167.3,537.1 201.9,534.5 236.4,542.3" fill="none" stroke="#404040" stroke-width="1.2" stroke-linejoin="round"/>
<polyline points="63,614.4 97.5,621.5 132.3,601.5 167,576 236.4,551.8 271,549.8 340.2,546.2 409.3,542.7" fill="none" stroke="#404040" stroke-width="1.2" stroke-linejoin="round"/>
<polyline points="63,612 97.7,600.6 132.4,582.9 167.1,562.1 270.9,561.2 340,566.2 478.4,556.5" fill="none" stroke="#404040" stroke-width="1.2" stroke-linejoin="round"/>
<polyline points="63,613 97.7,603 132.3,590 167.1,565.4 201.6,574 270.8,578 305.3,582.3 374.5,580.8 478.2,592.9" fill="none" stroke="#404040" stroke-width="1.2" stroke-linejoin="round"/>
<polyline points="63,614 97.6,609.2 132.3,597.1 167,573.8 236.2,578 270.7,584.4 305.3,592.9 478.2,593.9" fill="none" stroke="#404040" stroke-width="1.2" stroke-linejoin="round"/>
<polyline points="63,612.5 97.7,601.4 132.4,586.3" fill="none" stroke="#404040" stroke-width="1.2" stroke-linejoin="round"/>
<polyline points="63,613.5 97.6,610.9 132.2,606.2" fill="none" stroke="#404040" stroke-width="1.2" stroke-linejoin="round"/>
<polyline points="63.4,562.1 97.9,566 132.5,570 167,573 201.6,573.8 227.6,576 270.9,567.5 340,568.7 409.2,568.5 478.4,570.4" fill="none" stroke="#3a3a3a" stroke-width="1.25" stroke-dasharray="6.5,4.5"/>
<polyline points="63,612.7 97.6,614.4 132.2,616.1 166.7,618.3 197.9,616.1 235.9,628 270.5,622.5 339.7,622.5 408.9,622.3 478.1,620.6" fill="none" stroke="#666" stroke-width="1.3" stroke-dasharray="1.4,2.6"/>
<polyline points="62.7,790.9 97.4,786.5 132,792 166.6,798 201.2,803.4 235.9,797 270.6,791.6 305.2,803.7 339.8,803.7 409.1,806.5 478.4,809.4" fill="none" stroke="#404040" stroke-width="1.2" stroke-linejoin="round"/>
<polyline points="63.1,711.5 97.6,728.8 132.2,753.4 166.8,743.3 201.4,753.4 270.6,792 305.1,816.5 339.8,820.8 409,821 478.3,825.8" fill="none" stroke="#404040" stroke-width="1.2" stroke-linejoin="round"/>
<polyline points="63.1,721.6 97.7,712.1 130.2,812" fill="none" stroke="#404040" stroke-width="1.2" stroke-linejoin="round"/>
<polyline points="63,727.4 97.6,731.7 128.6,786" fill="none" stroke="#404040" stroke-width="1.2" stroke-linejoin="round"/>
<polyline points="62.9,753.4 97.6,743.3 132.1,778 166.6,799 201.2,804.9 235.9,797.1 270.5,810" fill="none" stroke="#404040" stroke-width="1.2" stroke-linejoin="round"/>
<polyline points="63,734.6 97.6,746.2 132,795 166.5,817 201.2,818" fill="none" stroke="#404040" stroke-width="1.2" stroke-linejoin="round"/>
<polyline points="63,733.2 97.5,750.5 132,792 166.5,823.5 201.1,844.6 235.7,849.4" fill="none" stroke="#404040" stroke-width="1.2" stroke-linejoin="round"/>
<polyline points="63,731.7 97.6,744.7 132.1,772 166.6,796 201.2,816 235.8,816 270.5,815.8 305.1,822 339.7,824 409,824.8" fill="none" stroke="#404040" stroke-width="1.2" stroke-linejoin="round"/>
<polyline points="62.9,756.2 97.6,731.7 132,792 166.6,803 201.2,817 235.9,808.3 270.5,815.8 305.1,829.3 339.8,812.2 409.1,815 478.3,817.7" fill="none" stroke="#404040" stroke-width="1.2" stroke-linejoin="round"/>
<polyline points="62.9,750 97.6,745 132,786 166.6,811 201.1,825.6 235.8,817 270.5,820 305.1,817.9 339.7,828.5 409,829.5 478.3,830.2" fill="none" stroke="#404040" stroke-width="1.2" stroke-linejoin="round"/>
<polyline points="62.9,750.5 97.6,734.6 132,786.5 166.5,820 201.1,836.2 235.8,823.5 270.4,832 305.1,837.4 339.7,829 409,831 478.3,838.3" fill="none" stroke="#404040" stroke-width="1.2" stroke-linejoin="round"/>
<polyline points="63,734.6 97.5,756.2 132,798 166.5,821 201.1,834 235.8,825 270.5,822 305.1,831.3 339.7,828.5 409,837.7" fill="none" stroke="#404040" stroke-width="1.2" stroke-linejoin="round"/>
<polyline points="63,731 104.6,727.1 133.2,729.2 168.3,731.7 206.2,729.2 235.3,726.9 265.8,722.9 308.9,732.3 368.2,726.7 407.1,724.7 476,720.4" fill="none" stroke="#666" stroke-width="1.3" stroke-dasharray="1.4,2.6"/>
<polyline points="62.2,864.5 97.1,857.5 131,861.8 166.5,868.3 199.7,869.9 234.3,863 306.3,869.3 375.3,863.6 410.7,864.9 473.5,867.1" fill="none" stroke="#707070" stroke-width="1.2" stroke-dasharray="5.5,4"/>
<path d="M138.5,186.6 L138.5,200.4 M136.3,186.6 L140.7,186.6 M136.3,200.4 L140.7,200.4" stroke="#333" stroke-width="1" fill="none"/>
<path d="M203.5,190.9 L203.5,200.4 M201.3,190.9 L205.7,190.9 M201.3,200.4 L205.7,200.4" stroke="#333" stroke-width="1" fill="none"/>
<path d="M275.5,182.4 L275.5,190.9 M273.3,182.4 L277.7,182.4 M273.3,190.9 L277.7,190.9" stroke="#333" stroke-width="1" fill="none"/>
<path d="M348.5,183 L348.5,192.3 M346.3,183 L350.7,183 M346.3,192.3 L350.7,192.3" stroke="#333" stroke-width="1" fill="none"/>
<path d="M415.5,183.9 L415.5,196.2 M413.3,183.9 L417.7,183.9 M413.3,196.2 L417.7,196.2" stroke="#333" stroke-width="1" fill="none"/>
<path d="M481.5,186.6 L481.5,195.1 M479.3,186.6 L483.7,186.6 M479.3,195.1 L483.7,195.1" stroke="#333" stroke-width="1" fill="none"/>
<path d="M138.5,200.4 L138.5,208.6 M136.3,200.4 L140.7,200.4 M136.3,208.6 L140.7,208.6" stroke="#333" stroke-width="1" fill="none"/>
<path d="M203.5,200.4 L203.5,208.6 M201.3,200.4 L205.7,200.4 M201.3,208.6 L205.7,208.6" stroke="#333" stroke-width="1" fill="none"/>
<path d="M275.5,201.4 L275.5,208.8 M273.3,201.4 L277.7,201.4 M273.3,208.8 L277.7,208.8" stroke="#333" stroke-width="1" fill="none"/>
<path d="M348.5,201.4 L348.5,208.8 M346.3,201.4 L350.7,201.4 M346.3,208.8 L350.7,208.8" stroke="#333" stroke-width="1" fill="none"/>
<path d="M415.5,201.4 L415.5,209.2 M413.3,201.4 L417.7,201.4 M413.3,209.2 L417.7,209.2" stroke="#333" stroke-width="1" fill="none"/>
<path d="M478.5,202.1 L478.5,209.5 M476.3,202.1 L480.7,202.1 M476.3,209.5 L480.7,209.5" stroke="#333" stroke-width="1" fill="none"/>
<path d="M66.5,355.4 L66.5,369.7 M61.5,355.4 L71.5,355.4 M61.5,369.7 L71.5,369.7" stroke="#333" stroke-width="1" fill="none"/>
<path d="M98.5,360 L98.5,366.2 M96.3,360 L100.7,360 M96.3,366.2 L100.7,366.2" stroke="#333" stroke-width="1" fill="none"/>
<path d="M134.5,359.2 L134.5,366.2 M132.3,359.2 L136.7,359.2 M132.3,366.2 L136.7,366.2" stroke="#333" stroke-width="1" fill="none"/>
<path d="M169.5,356.5 L169.5,361.2 M167.3,356.5 L171.7,356.5 M167.3,361.2 L171.7,361.2" stroke="#333" stroke-width="1" fill="none"/>
<path d="M204.5,355.2 L204.5,364.4 M202.3,355.2 L206.7,355.2 M202.3,364.4 L206.7,364.4" stroke="#333" stroke-width="1" fill="none"/>
<path d="M272.5,363.1 L272.5,372.3 M270.3,363.1 L274.7,363.1 M270.3,372.3 L274.7,372.3" stroke="#333" stroke-width="1" fill="none"/>
<path d="M343.5,360.5 L343.5,370.8 M341.3,360.5 L345.7,360.5 M341.3,370.8 L345.7,370.8" stroke="#333" stroke-width="1" fill="none"/>
<path d="M412.5,361.8 L412.5,371.5 M410.3,361.8 L414.7,361.8 M410.3,371.5 L414.7,371.5" stroke="#333" stroke-width="1" fill="none"/>
<path d="M479.5,360.5 L479.5,370.8 M477.3,360.5 L481.7,360.5 M477.3,370.8 L481.7,370.8" stroke="#333" stroke-width="1" fill="none"/>
<path d="M98.5,399.2 L98.5,408 M96.3,399.2 L100.7,399.2 M96.3,408 L100.7,408" stroke="#333" stroke-width="1" fill="none"/>
<path d="M134.5,396.5 L134.5,406.2 M132.3,396.5 L136.7,396.5 M132.3,406.2 L136.7,406.2" stroke="#333" stroke-width="1" fill="none"/>
<path d="M202.5,403.2 L202.5,412.5 M200.3,403.2 L204.7,403.2 M200.3,412.5 L204.7,412.5" stroke="#333" stroke-width="1" fill="none"/>
<path d="M236.5,400.4 L236.5,409 M234.3,400.4 L238.7,400.4 M234.3,409 L238.7,409" stroke="#333" stroke-width="1" fill="none"/>
<path d="M271.5,407.3 L271.5,417.7 M269.3,407.3 L273.7,407.3 M269.3,417.7 L273.7,417.7" stroke="#333" stroke-width="1" fill="none"/>
<path d="M340.5,406.6 L340.5,414.2 M338.3,406.6 L342.7,406.6 M338.3,414.2 L342.7,414.2" stroke="#333" stroke-width="1" fill="none"/>
<path d="M411.5,405.6 L411.5,416 M409.3,405.6 L413.7,405.6 M409.3,416 L413.7,416" stroke="#333" stroke-width="1" fill="none"/>
<path d="M478.5,402.1 L478.5,416 M476.3,402.1 L480.7,402.1 M476.3,416 L480.7,416" stroke="#333" stroke-width="1" fill="none"/>
<path d="M98.5,564.2 L98.5,570.3 M96.3,564.2 L100.7,564.2 M96.3,570.3 L100.7,570.3" stroke="#333" stroke-width="1" fill="none"/>
<path d="M134.5,566.2 L134.5,576 M132.3,566.2 L136.7,566.2 M132.3,576 L136.7,576" stroke="#333" stroke-width="1" fill="none"/>
<path d="M167.5,569.6 L167.5,578 M165.3,569.6 L169.7,569.6 M165.3,578 L169.7,578" stroke="#333" stroke-width="1" fill="none"/>
<path d="M201.5,569.6 L201.5,577.2 M199.3,569.6 L203.7,569.6 M199.3,577.2 L203.7,577.2" stroke="#333" stroke-width="1" fill="none"/>
<path d="M228.5,571.7 L228.5,580.2 M226.3,571.7 L230.7,571.7 M226.3,580.2 L230.7,580.2" stroke="#333" stroke-width="1" fill="none"/>
<path d="M273.5,563.3 L273.5,571.7 M271.3,563.3 L275.7,563.3 M271.3,571.7 L275.7,571.7" stroke="#333" stroke-width="1" fill="none"/>
<path d="M341.5,564.5 L341.5,573 M339.3,564.5 L343.7,564.5 M339.3,573 L343.7,573" stroke="#333" stroke-width="1" fill="none"/>
<path d="M401.5,562.8 L401.5,573.2 M399.3,562.8 L403.7,562.8 M399.3,573.2 L403.7,573.2" stroke="#333" stroke-width="1" fill="none"/>
<path d="M473.5,565.2 L473.5,573.8 M471.3,565.2 L475.7,565.2 M471.3,573.8 L475.7,573.8" stroke="#333" stroke-width="1" fill="none"/>
<path d="M98.5,612.7 L98.5,617 M96.3,612.7 L100.7,612.7 M96.3,617 L100.7,617" stroke="#333" stroke-width="1" fill="none"/>
<path d="M132.5,613.5 L132.5,619.9 M130.3,613.5 L134.7,613.5 M130.3,619.9 L134.7,619.9" stroke="#333" stroke-width="1" fill="none"/>
<path d="M167.5,615.3 L167.5,622.5 M165.3,615.3 L169.7,615.3 M165.3,622.5 L169.7,622.5" stroke="#333" stroke-width="1" fill="none"/>
<path d="M197.5,612.8 L197.5,620.4 M195.3,612.8 L199.7,612.8 M195.3,620.4 L199.7,620.4" stroke="#333" stroke-width="1" fill="none"/>
<path d="M235.5,624.6 L235.5,631 M233.3,624.6 L237.7,624.6 M233.3,631 L237.7,631" stroke="#333" stroke-width="1" fill="none"/>
<path d="M273.5,619.5 L273.5,626.7 M271.3,619.5 L275.7,619.5 M271.3,626.7 L275.7,626.7" stroke="#333" stroke-width="1" fill="none"/>
<path d="M341.5,618.3 L341.5,626.7 M339.3,618.3 L343.7,618.3 M339.3,626.7 L343.7,626.7" stroke="#333" stroke-width="1" fill="none"/>
<path d="M409.5,618.1 L409.5,626.5 M407.3,618.1 L411.7,618.1 M407.3,626.5 L411.7,626.5" stroke="#333" stroke-width="1" fill="none"/>
<path d="M475.5,617.1 L475.5,625.1 M473.3,617.1 L477.7,617.1 M473.3,625.1 L477.7,625.1" stroke="#333" stroke-width="1" fill="none"/>
<path d="M104.5,713.8 L104.5,738.5 M100,713.8 L109,713.8 M100,738.5 L109,738.5" stroke="#333" stroke-width="1" fill="none"/>
<path d="M133.5,716.9 L133.5,740 M129,716.9 L138,716.9 M129,740 L138,740" stroke="#333" stroke-width="1" fill="none"/>
<path d="M168.5,720 L168.5,743.1 M164,720 L173,720 M164,743.1 L173,743.1" stroke="#333" stroke-width="1" fill="none"/>
<path d="M206.5,716.9 L206.5,740 M202,716.9 L211,716.9 M202,740 L211,740" stroke="#333" stroke-width="1" fill="none"/>
<path d="M235.5,716.7 L235.5,735 M230.5,716.7 L240.5,716.7 M230.5,735 L240.5,735" stroke="#333" stroke-width="1" fill="none"/>
<path d="M265.5,711.3 L265.5,734.5 M260.5,711.3 L270.5,711.3 M260.5,734.5 L270.5,734.5" stroke="#333" stroke-width="1" fill="none"/>
<path d="M308.5,715.6 L308.5,743.9 M303.5,715.6 L313.5,715.6 M303.5,743.9 L313.5,743.9" stroke="#333" stroke-width="1" fill="none"/>
<path d="M368.5,714.6 L368.5,738.3 M363.5,714.6 L373.5,714.6 M363.5,738.3 L373.5,738.3" stroke="#333" stroke-width="1" fill="none"/>
<path d="M407.5,712.3 L407.5,736.2 M402.5,712.3 L412.5,712.3 M402.5,736.2 L412.5,736.2" stroke="#333" stroke-width="1" fill="none"/>
<path d="M476.5,708.8 L476.5,732.5 M471.5,708.8 L481.5,708.8 M471.5,732.5 L481.5,732.5" stroke="#333" stroke-width="1" fill="none"/>
<path d="M97.5,852.7 L97.5,864.9 M94.3,852.7 L100.7,852.7 M94.3,864.9 L100.7,864.9" stroke="#333" stroke-width="1" fill="none"/>
<path d="M131.5,855.4 L131.5,867.5 M128.3,855.4 L134.7,855.4 M128.3,867.5 L134.7,867.5" stroke="#333" stroke-width="1" fill="none"/>
<path d="M166.5,861.8 L166.5,872.9 M163.3,861.8 L169.7,861.8 M163.3,872.9 L169.7,872.9" stroke="#333" stroke-width="1" fill="none"/>
<path d="M199.5,864.2 L199.5,875.2 M196.3,864.2 L202.7,864.2 M196.3,875.2 L202.7,875.2" stroke="#333" stroke-width="1" fill="none"/>
<path d="M234.5,857.7 L234.5,868.8 M231.3,857.7 L237.7,857.7 M231.3,868.8 L237.7,868.8" stroke="#333" stroke-width="1" fill="none"/>
<path d="M306.5,862.7 L306.5,875.1 M303.3,862.7 L309.7,862.7 M303.3,875.1 L309.7,875.1" stroke="#333" stroke-width="1" fill="none"/>
<path d="M375.5,857.4 L375.5,869.3 M372.3,857.4 L378.7,857.4 M372.3,869.3 L378.7,869.3" stroke="#333" stroke-width="1" fill="none"/>
<path d="M410.5,859.2 L410.5,871.5 M407.3,859.2 L413.7,859.2 M407.3,871.5 L413.7,871.5" stroke="#333" stroke-width="1" fill="none"/>
<path d="M473.5,861.8 L473.5,872.4 M470.3,861.8 L476.7,861.8 M470.3,872.4 L476.7,872.4" stroke="#333" stroke-width="1" fill="none"/>
<text x="418.7" y="48.8" class="dl">10</text>
<text x="487" y="62.3" class="dl">8</text>
<text x="277.5" y="95.5" class="dl">9</text>
<text x="488.2" y="136.6" class="dl">7</text>
<text x="487.7" y="148.8" class="dl">4</text>
<text x="207.8" y="169.2" class="dl">12</text>
<text x="246.4" y="176.3" class="dl">11</text>
<text x="141.3" y="178.5" class="dl">6</text>
<text x="417.3" y="177.7" class="dl">3</text>
<text x="487.7" y="173.5" class="dl">2</text>
<text x="483.1" y="184.8" class="dl">1</text>
<text x="140.2" y="197" class="dl">5</text>
<text x="414.4" y="278" class="dl">10</text>
<text x="482" y="288.5" class="dl">8</text>
<text x="482" y="304" class="dl">7</text>
<text x="419.6" y="337.6" class="dl">3</text>
<text x="482" y="334" class="dl">4</text>
<text x="482" y="361" class="dl">2</text>
<text x="482" y="375.7" class="dl">1</text>
<text x="205.8" y="301.5" class="dl">12</text>
<text x="239.6" y="317.5" class="dl">11</text>
<text x="275.6" y="307" class="dl">9</text>
<text x="135.4" y="356.5" class="dl">6</text>
<text x="135.4" y="380.4" class="dl">5</text>
<text x="404" y="499.4" class="dl">10</text>
<text x="480.2" y="507.4" class="dl">8</text>
<text x="481.2" y="531.6" class="dl">7</text>
<text x="409.2" y="548" class="dl">3</text>
<text x="480.2" y="559.3" class="dl">4</text>
<text x="478.5" y="591.1" class="dl">2</text>
<text x="480.2" y="603.3" class="dl">1</text>
<text x="204.3" y="532" class="dl">12</text>
<text x="238" y="547.5" class="dl">11</text>
<text x="271" y="531.2" class="dl">9</text>
<text x="136.5" y="590.7" class="dl">6</text>
<text x="135.7" y="608" class="dl">5</text>
<text x="478.8" y="808.5" class="dl">8</text>
<text x="478.8" y="818.5" class="dl">7</text>
<text x="478.8" y="827.7" class="dl">4</text>
<text x="478.8" y="835.4" class="dl">2</text>
<text x="480.8" y="847" class="dl">1</text>
<text x="409.6" y="829.6" class="dl">10</text>
<text x="412.5" y="845" class="dl">3</text>
<text x="276.1" y="811.8" class="dl">9</text>
<text x="200" y="825.6" class="dl">12</text>
<text x="238" y="853.5" class="dl">11</text>
<text x="132.1" y="795.2" class="dl">6</text>
<text x="137.9" y="822.6" class="dl">5</text>
</svg>
</body></html>
